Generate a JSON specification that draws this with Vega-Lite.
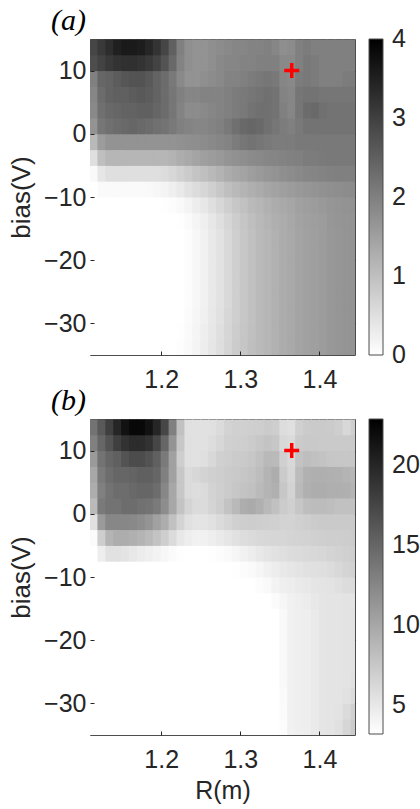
{
"$schema":"https://vega.github.io/schema/vega-lite/v6.json",
"background":"white",
"padding":{"left":8,"top":5,"right":0,"bottom":0},
"config":{
 "font":"Liberation Sans",
 "view":{"stroke":"#4d4d4d","strokeWidth":1},
 "axis":{"grid":false,"domain":false,"labelFont":"Liberation Sans","labelFontSize":25,"labelColor":"#262626","titleFont":"Liberation Sans","titleFontSize":25,"titleFontWeight":"normal","titleColor":"#262626","tickColor":"#262626","tickSize":-4,"tickWidth":1,"labelPadding":8},
 "axisX":{"labelPadding":16,"titlePadding":6},
 "axisY":{"titlePadding":9,"titleFontSize":26},
 "concat":{"spacing":-8}
},
"datasets":{
"a":[
{"r":1.11,"b":12.5,"v":2.9},{"r":1.12,"b":12.5,"v":3.1},{"r":1.13,"b":12.5,"v":3.3},{"r":1.14,"b":12.5,"v":3.5},{"r":1.15,"b":12.5,"v":3.6},{"r":1.16,"b":12.5,"v":3.6},{"r":1.17,"b":12.5,"v":3.55},{"r":1.18,"b":12.5,"v":3.4},{"r":1.19,"b":12.5,"v":3.2},{"r":1.2,"b":12.5,"v":2.9},{"r":1.21,"b":12.5,"v":2.5},{"r":1.22,"b":12.5,"v":2.0},{"r":1.23,"b":12.5,"v":1.75},{"r":1.24,"b":12.5,"v":1.7},{"r":1.25,"b":12.5,"v":1.7},{"r":1.26,"b":12.5,"v":1.75},{"r":1.27,"b":12.5,"v":1.8},{"r":1.28,"b":12.5,"v":1.85},{"r":1.29,"b":12.5,"v":1.9},{"r":1.3,"b":12.5,"v":1.9},{"r":1.31,"b":12.5,"v":1.95},{"r":1.32,"b":12.5,"v":1.95},{"r":1.33,"b":12.5,"v":2.0},{"r":1.34,"b":12.5,"v":1.9},{"r":1.35,"b":12.5,"v":1.75},{"r":1.36,"b":12.5,"v":1.8},{"r":1.37,"b":12.5,"v":2.0},{"r":1.38,"b":12.5,"v":2.05},{"r":1.39,"b":12.5,"v":2.0},{"r":1.4,"b":12.5,"v":2.0},{"r":1.41,"b":12.5,"v":2.0},{"r":1.42,"b":12.5,"v":2.0},{"r":1.43,"b":12.5,"v":2.0},{"r":1.44,"b":12.5,"v":2.0},
{"r":1.11,"b":10,"v":2.8},{"r":1.12,"b":10,"v":2.95},{"r":1.13,"b":10,"v":3.1},{"r":1.14,"b":10,"v":3.2},{"r":1.15,"b":10,"v":3.25},{"r":1.16,"b":10,"v":3.25},{"r":1.17,"b":10,"v":3.2},{"r":1.18,"b":10,"v":3.1},{"r":1.19,"b":10,"v":2.95},{"r":1.2,"b":10,"v":2.7},{"r":1.21,"b":10,"v":2.35},{"r":1.22,"b":10,"v":1.95},{"r":1.23,"b":10,"v":1.75},{"r":1.24,"b":10,"v":1.7},{"r":1.25,"b":10,"v":1.7},{"r":1.26,"b":10,"v":1.75},{"r":1.27,"b":10,"v":1.85},{"r":1.28,"b":10,"v":1.9},{"r":1.29,"b":10,"v":1.9},{"r":1.3,"b":10,"v":1.95},{"r":1.31,"b":10,"v":1.95},{"r":1.32,"b":10,"v":2.0},{"r":1.33,"b":10,"v":2.0},{"r":1.34,"b":10,"v":2.0},{"r":1.35,"b":10,"v":1.85},{"r":1.36,"b":10,"v":1.85},{"r":1.37,"b":10,"v":2.0},{"r":1.38,"b":10,"v":2.1},{"r":1.39,"b":10,"v":2.05},{"r":1.4,"b":10,"v":2.0},{"r":1.41,"b":10,"v":2.0},{"r":1.42,"b":10,"v":2.0},{"r":1.43,"b":10,"v":2.0},{"r":1.44,"b":10,"v":2.0},
{"r":1.11,"b":7.5,"v":2.0},{"r":1.12,"b":7.5,"v":2.4},{"r":1.13,"b":7.5,"v":2.45},{"r":1.14,"b":7.5,"v":2.55},{"r":1.15,"b":7.5,"v":2.65},{"r":1.16,"b":7.5,"v":2.7},{"r":1.17,"b":7.5,"v":2.7},{"r":1.18,"b":7.5,"v":2.6},{"r":1.19,"b":7.5,"v":2.45},{"r":1.2,"b":7.5,"v":2.3},{"r":1.21,"b":7.5,"v":2.1},{"r":1.22,"b":7.5,"v":1.85},{"r":1.23,"b":7.5,"v":1.7},{"r":1.24,"b":7.5,"v":1.7},{"r":1.25,"b":7.5,"v":1.75},{"r":1.26,"b":7.5,"v":1.8},{"r":1.27,"b":7.5,"v":1.85},{"r":1.28,"b":7.5,"v":1.95},{"r":1.29,"b":7.5,"v":1.95},{"r":1.3,"b":7.5,"v":2.0},{"r":1.31,"b":7.5,"v":2.05},{"r":1.32,"b":7.5,"v":2.1},{"r":1.33,"b":7.5,"v":2.15},{"r":1.34,"b":7.5,"v":2.1},{"r":1.35,"b":7.5,"v":1.9},{"r":1.36,"b":7.5,"v":1.85},{"r":1.37,"b":7.5,"v":2.05},{"r":1.38,"b":7.5,"v":2.1},{"r":1.39,"b":7.5,"v":2.05},{"r":1.4,"b":7.5,"v":2.0},{"r":1.41,"b":7.5,"v":2.0},{"r":1.42,"b":7.5,"v":2.0},{"r":1.43,"b":7.5,"v":2.05},{"r":1.44,"b":7.5,"v":2.05},
{"r":1.11,"b":5,"v":1.9},{"r":1.12,"b":5,"v":2.3},{"r":1.13,"b":5,"v":2.45},{"r":1.14,"b":5,"v":2.5},{"r":1.15,"b":5,"v":2.5},{"r":1.16,"b":5,"v":2.55},{"r":1.17,"b":5,"v":2.6},{"r":1.18,"b":5,"v":2.55},{"r":1.19,"b":5,"v":2.45},{"r":1.2,"b":5,"v":2.3},{"r":1.21,"b":5,"v":2.15},{"r":1.22,"b":5,"v":2.0},{"r":1.23,"b":5,"v":1.9},{"r":1.24,"b":5,"v":1.9},{"r":1.25,"b":5,"v":1.95},{"r":1.26,"b":5,"v":1.95},{"r":1.27,"b":5,"v":1.95},{"r":1.28,"b":5,"v":2.0},{"r":1.29,"b":5,"v":2.05},{"r":1.3,"b":5,"v":2.1},{"r":1.31,"b":5,"v":2.15},{"r":1.32,"b":5,"v":2.2},{"r":1.33,"b":5,"v":2.25},{"r":1.34,"b":5,"v":2.2},{"r":1.35,"b":5,"v":1.95},{"r":1.36,"b":5,"v":1.9},{"r":1.37,"b":5,"v":2.15},{"r":1.38,"b":5,"v":2.2},{"r":1.39,"b":5,"v":2.2},{"r":1.4,"b":5,"v":2.15},{"r":1.41,"b":5,"v":2.15},{"r":1.42,"b":5,"v":2.15},{"r":1.43,"b":5,"v":2.15},{"r":1.44,"b":5,"v":2.15},
{"r":1.11,"b":2.5,"v":1.85},{"r":1.12,"b":2.5,"v":2.25},{"r":1.13,"b":2.5,"v":2.35},{"r":1.14,"b":2.5,"v":2.4},{"r":1.15,"b":2.5,"v":2.45},{"r":1.16,"b":2.5,"v":2.45},{"r":1.17,"b":2.5,"v":2.5},{"r":1.18,"b":2.5,"v":2.5},{"r":1.19,"b":2.5,"v":2.4},{"r":1.2,"b":2.5,"v":2.3},{"r":1.21,"b":2.5,"v":2.15},{"r":1.22,"b":2.5,"v":1.95},{"r":1.23,"b":2.5,"v":1.8},{"r":1.24,"b":2.5,"v":1.8},{"r":1.25,"b":2.5,"v":1.85},{"r":1.26,"b":2.5,"v":1.9},{"r":1.27,"b":2.5,"v":1.95},{"r":1.28,"b":2.5,"v":2.0},{"r":1.29,"b":2.5,"v":2.05},{"r":1.3,"b":2.5,"v":2.1},{"r":1.31,"b":2.5,"v":2.2},{"r":1.32,"b":2.5,"v":2.25},{"r":1.33,"b":2.5,"v":2.25},{"r":1.34,"b":2.5,"v":2.2},{"r":1.35,"b":2.5,"v":2.0},{"r":1.36,"b":2.5,"v":1.9},{"r":1.37,"b":2.5,"v":2.15},{"r":1.38,"b":2.5,"v":2.3},{"r":1.39,"b":2.5,"v":2.35},{"r":1.4,"b":2.5,"v":2.25},{"r":1.41,"b":2.5,"v":2.2},{"r":1.42,"b":2.5,"v":2.2},{"r":1.43,"b":2.5,"v":2.2},{"r":1.44,"b":2.5,"v":2.2},
{"r":1.11,"b":0,"v":1.7},{"r":1.12,"b":0,"v":2.15},{"r":1.13,"b":0,"v":2.25},{"r":1.14,"b":0,"v":2.3},{"r":1.15,"b":0,"v":2.35},{"r":1.16,"b":0,"v":2.4},{"r":1.17,"b":0,"v":2.35},{"r":1.18,"b":0,"v":2.3},{"r":1.19,"b":0,"v":2.25},{"r":1.2,"b":0,"v":2.2},{"r":1.21,"b":0,"v":2.1},{"r":1.22,"b":0,"v":2.0},{"r":1.23,"b":0,"v":1.95},{"r":1.24,"b":0,"v":1.9},{"r":1.25,"b":0,"v":1.9},{"r":1.26,"b":0,"v":1.95},{"r":1.27,"b":0,"v":2.0},{"r":1.28,"b":0,"v":2.1},{"r":1.29,"b":0,"v":2.25},{"r":1.3,"b":0,"v":2.35},{"r":1.31,"b":0,"v":2.4},{"r":1.32,"b":0,"v":2.35},{"r":1.33,"b":0,"v":2.25},{"r":1.34,"b":0,"v":2.15},{"r":1.35,"b":0,"v":2.05},{"r":1.36,"b":0,"v":2.0},{"r":1.37,"b":0,"v":2.1},{"r":1.38,"b":0,"v":2.2},{"r":1.39,"b":0,"v":2.2},{"r":1.4,"b":0,"v":2.2},{"r":1.41,"b":0,"v":2.2},{"r":1.42,"b":0,"v":2.2},{"r":1.43,"b":0,"v":2.2},{"r":1.44,"b":0,"v":2.2},
{"r":1.11,"b":-2.5,"v":1.1},{"r":1.12,"b":-2.5,"v":1.55},{"r":1.13,"b":-2.5,"v":1.7},{"r":1.14,"b":-2.5,"v":1.7},{"r":1.15,"b":-2.5,"v":1.7},{"r":1.16,"b":-2.5,"v":1.7},{"r":1.17,"b":-2.5,"v":1.7},{"r":1.18,"b":-2.5,"v":1.7},{"r":1.19,"b":-2.5,"v":1.7},{"r":1.2,"b":-2.5,"v":1.7},{"r":1.21,"b":-2.5,"v":1.7},{"r":1.22,"b":-2.5,"v":1.72},{"r":1.23,"b":-2.5,"v":1.75},{"r":1.24,"b":-2.5,"v":1.78},{"r":1.25,"b":-2.5,"v":1.8},{"r":1.26,"b":-2.5,"v":1.85},{"r":1.27,"b":-2.5,"v":1.9},{"r":1.28,"b":-2.5,"v":1.95},{"r":1.29,"b":-2.5,"v":2.05},{"r":1.3,"b":-2.5,"v":2.15},{"r":1.31,"b":-2.5,"v":2.2},{"r":1.32,"b":-2.5,"v":2.15},{"r":1.33,"b":-2.5,"v":2.1},{"r":1.34,"b":-2.5,"v":2.05},{"r":1.35,"b":-2.5,"v":2.05},{"r":1.36,"b":-2.5,"v":2.05},{"r":1.37,"b":-2.5,"v":2.1},{"r":1.38,"b":-2.5,"v":2.1},{"r":1.39,"b":-2.5,"v":2.1},{"r":1.4,"b":-2.5,"v":2.1},{"r":1.41,"b":-2.5,"v":2.1},{"r":1.42,"b":-2.5,"v":2.1},{"r":1.43,"b":-2.5,"v":2.1},{"r":1.44,"b":-2.5,"v":2.1},
{"r":1.11,"b":-5,"v":0.5},{"r":1.12,"b":-5,"v":1.0},{"r":1.13,"b":-5,"v":1.15},{"r":1.14,"b":-5,"v":1.15},{"r":1.15,"b":-5,"v":1.15},{"r":1.16,"b":-5,"v":1.15},{"r":1.17,"b":-5,"v":1.15},{"r":1.18,"b":-5,"v":1.15},{"r":1.19,"b":-5,"v":1.15},{"r":1.2,"b":-5,"v":1.15},{"r":1.21,"b":-5,"v":1.2},{"r":1.22,"b":-5,"v":1.28},{"r":1.23,"b":-5,"v":1.35},{"r":1.24,"b":-5,"v":1.42},{"r":1.25,"b":-5,"v":1.5},{"r":1.26,"b":-5,"v":1.55},{"r":1.27,"b":-5,"v":1.6},{"r":1.28,"b":-5,"v":1.68},{"r":1.29,"b":-5,"v":1.72},{"r":1.3,"b":-5,"v":1.78},{"r":1.31,"b":-5,"v":1.82},{"r":1.32,"b":-5,"v":1.85},{"r":1.33,"b":-5,"v":1.9},{"r":1.34,"b":-5,"v":1.92},{"r":1.35,"b":-5,"v":1.95},{"r":1.36,"b":-5,"v":1.98},{"r":1.37,"b":-5,"v":2.0},{"r":1.38,"b":-5,"v":2.05},{"r":1.39,"b":-5,"v":2.05},{"r":1.4,"b":-5,"v":2.08},{"r":1.41,"b":-5,"v":2.1},{"r":1.42,"b":-5,"v":2.1},{"r":1.43,"b":-5,"v":2.1},{"r":1.44,"b":-5,"v":2.1},
{"r":1.11,"b":-7.5,"v":0.1},{"r":1.12,"b":-7.5,"v":0.4},{"r":1.13,"b":-7.5,"v":0.5},{"r":1.14,"b":-7.5,"v":0.5},{"r":1.15,"b":-7.5,"v":0.5},{"r":1.16,"b":-7.5,"v":0.5},{"r":1.17,"b":-7.5,"v":0.5},{"r":1.18,"b":-7.5,"v":0.5},{"r":1.19,"b":-7.5,"v":0.5},{"r":1.2,"b":-7.5,"v":0.55},{"r":1.21,"b":-7.5,"v":0.62},{"r":1.22,"b":-7.5,"v":0.72},{"r":1.23,"b":-7.5,"v":0.82},{"r":1.24,"b":-7.5,"v":0.92},{"r":1.25,"b":-7.5,"v":1.0},{"r":1.26,"b":-7.5,"v":1.1},{"r":1.27,"b":-7.5,"v":1.2},{"r":1.28,"b":-7.5,"v":1.3},{"r":1.29,"b":-7.5,"v":1.38},{"r":1.3,"b":-7.5,"v":1.45},{"r":1.31,"b":-7.5,"v":1.52},{"r":1.32,"b":-7.5,"v":1.58},{"r":1.33,"b":-7.5,"v":1.65},{"r":1.34,"b":-7.5,"v":1.7},{"r":1.35,"b":-7.5,"v":1.75},{"r":1.36,"b":-7.5,"v":1.8},{"r":1.37,"b":-7.5,"v":1.85},{"r":1.38,"b":-7.5,"v":1.9},{"r":1.39,"b":-7.5,"v":1.92},{"r":1.4,"b":-7.5,"v":1.95},{"r":1.41,"b":-7.5,"v":1.98},{"r":1.42,"b":-7.5,"v":2.0},{"r":1.43,"b":-7.5,"v":2.0},{"r":1.44,"b":-7.5,"v":2.0},
{"r":1.11,"b":-10,"v":0},{"r":1.12,"b":-10,"v":0.08},{"r":1.13,"b":-10,"v":0.08},{"r":1.14,"b":-10,"v":0.08},{"r":1.15,"b":-10,"v":0.08},{"r":1.16,"b":-10,"v":0.08},{"r":1.17,"b":-10,"v":0.08},{"r":1.18,"b":-10,"v":0.1},{"r":1.19,"b":-10,"v":0.12},{"r":1.2,"b":-10,"v":0.18},{"r":1.21,"b":-10,"v":0.25},{"r":1.22,"b":-10,"v":0.35},{"r":1.23,"b":-10,"v":0.45},{"r":1.24,"b":-10,"v":0.55},{"r":1.25,"b":-10,"v":0.65},{"r":1.26,"b":-10,"v":0.75},{"r":1.27,"b":-10,"v":0.88},{"r":1.28,"b":-10,"v":1.0},{"r":1.29,"b":-10,"v":1.1},{"r":1.3,"b":-10,"v":1.18},{"r":1.31,"b":-10,"v":1.25},{"r":1.32,"b":-10,"v":1.32},{"r":1.33,"b":-10,"v":1.4},{"r":1.34,"b":-10,"v":1.45},{"r":1.35,"b":-10,"v":1.5},{"r":1.36,"b":-10,"v":1.55},{"r":1.37,"b":-10,"v":1.6},{"r":1.38,"b":-10,"v":1.65},{"r":1.39,"b":-10,"v":1.68},{"r":1.4,"b":-10,"v":1.72},{"r":1.41,"b":-10,"v":1.75},{"r":1.42,"b":-10,"v":1.78},{"r":1.43,"b":-10,"v":1.8},{"r":1.44,"b":-10,"v":1.82},
{"r":1.11,"b":-12.5,"v":0},{"r":1.12,"b":-12.5,"v":0},{"r":1.13,"b":-12.5,"v":0},{"r":1.14,"b":-12.5,"v":0},{"r":1.15,"b":-12.5,"v":0},{"r":1.16,"b":-12.5,"v":0},{"r":1.17,"b":-12.5,"v":0},{"r":1.18,"b":-12.5,"v":0},{"r":1.19,"b":-12.5,"v":0},{"r":1.2,"b":-12.5,"v":0.02},{"r":1.21,"b":-12.5,"v":0.05},{"r":1.22,"b":-12.5,"v":0.1},{"r":1.23,"b":-12.5,"v":0.18},{"r":1.24,"b":-12.5,"v":0.28},{"r":1.25,"b":-12.5,"v":0.38},{"r":1.26,"b":-12.5,"v":0.5},{"r":1.27,"b":-12.5,"v":0.62},{"r":1.28,"b":-12.5,"v":0.75},{"r":1.29,"b":-12.5,"v":0.88},{"r":1.3,"b":-12.5,"v":0.98},{"r":1.31,"b":-12.5,"v":1.08},{"r":1.32,"b":-12.5,"v":1.15},{"r":1.33,"b":-12.5,"v":1.22},{"r":1.34,"b":-12.5,"v":1.3},{"r":1.35,"b":-12.5,"v":1.35},{"r":1.36,"b":-12.5,"v":1.4},{"r":1.37,"b":-12.5,"v":1.48},{"r":1.38,"b":-12.5,"v":1.52},{"r":1.39,"b":-12.5,"v":1.55},{"r":1.4,"b":-12.5,"v":1.6},{"r":1.41,"b":-12.5,"v":1.65},{"r":1.42,"b":-12.5,"v":1.68},{"r":1.43,"b":-12.5,"v":1.7},{"r":1.44,"b":-12.5,"v":1.72},
{"r":1.11,"b":-15,"v":0},{"r":1.12,"b":-15,"v":0},{"r":1.13,"b":-15,"v":0},{"r":1.14,"b":-15,"v":0},{"r":1.15,"b":-15,"v":0},{"r":1.16,"b":-15,"v":0},{"r":1.17,"b":-15,"v":0},{"r":1.18,"b":-15,"v":0},{"r":1.19,"b":-15,"v":0},{"r":1.2,"b":-15,"v":0},{"r":1.21,"b":-15,"v":0},{"r":1.22,"b":-15,"v":0.02},{"r":1.23,"b":-15,"v":0.08},{"r":1.24,"b":-15,"v":0.15},{"r":1.25,"b":-15,"v":0.25},{"r":1.26,"b":-15,"v":0.38},{"r":1.27,"b":-15,"v":0.5},{"r":1.28,"b":-15,"v":0.65},{"r":1.29,"b":-15,"v":0.78},{"r":1.3,"b":-15,"v":0.9},{"r":1.31,"b":-15,"v":1.0},{"r":1.32,"b":-15,"v":1.1},{"r":1.33,"b":-15,"v":1.17},{"r":1.34,"b":-15,"v":1.25},{"r":1.35,"b":-15,"v":1.3},{"r":1.36,"b":-15,"v":1.36},{"r":1.37,"b":-15,"v":1.44},{"r":1.38,"b":-15,"v":1.49},{"r":1.39,"b":-15,"v":1.52},{"r":1.4,"b":-15,"v":1.56},{"r":1.41,"b":-15,"v":1.63},{"r":1.42,"b":-15,"v":1.66},{"r":1.43,"b":-15,"v":1.68},{"r":1.44,"b":-15,"v":1.7},
{"r":1.11,"b":-17.5,"v":0},{"r":1.12,"b":-17.5,"v":0},{"r":1.13,"b":-17.5,"v":0},{"r":1.14,"b":-17.5,"v":0},{"r":1.15,"b":-17.5,"v":0},{"r":1.16,"b":-17.5,"v":0},{"r":1.17,"b":-17.5,"v":0},{"r":1.18,"b":-17.5,"v":0},{"r":1.19,"b":-17.5,"v":0},{"r":1.2,"b":-17.5,"v":0},{"r":1.21,"b":-17.5,"v":0},{"r":1.22,"b":-17.5,"v":0},{"r":1.23,"b":-17.5,"v":0.05},{"r":1.24,"b":-17.5,"v":0.12},{"r":1.25,"b":-17.5,"v":0.22},{"r":1.26,"b":-17.5,"v":0.35},{"r":1.27,"b":-17.5,"v":0.45},{"r":1.28,"b":-17.5,"v":0.6},{"r":1.29,"b":-17.5,"v":0.75},{"r":1.3,"b":-17.5,"v":0.88},{"r":1.31,"b":-17.5,"v":0.98},{"r":1.32,"b":-17.5,"v":1.08},{"r":1.33,"b":-17.5,"v":1.15},{"r":1.34,"b":-17.5,"v":1.22},{"r":1.35,"b":-17.5,"v":1.3},{"r":1.36,"b":-17.5,"v":1.35},{"r":1.37,"b":-17.5,"v":1.42},{"r":1.38,"b":-17.5,"v":1.48},{"r":1.39,"b":-17.5,"v":1.5},{"r":1.4,"b":-17.5,"v":1.55},{"r":1.41,"b":-17.5,"v":1.62},{"r":1.42,"b":-17.5,"v":1.65},{"r":1.43,"b":-17.5,"v":1.68},{"r":1.44,"b":-17.5,"v":1.7},
{"r":1.11,"b":-20,"v":0},{"r":1.12,"b":-20,"v":0},{"r":1.13,"b":-20,"v":0},{"r":1.14,"b":-20,"v":0},{"r":1.15,"b":-20,"v":0},{"r":1.16,"b":-20,"v":0},{"r":1.17,"b":-20,"v":0},{"r":1.18,"b":-20,"v":0},{"r":1.19,"b":-20,"v":0},{"r":1.2,"b":-20,"v":0},{"r":1.21,"b":-20,"v":0},{"r":1.22,"b":-20,"v":0},{"r":1.23,"b":-20,"v":0.05},{"r":1.24,"b":-20,"v":0.12},{"r":1.25,"b":-20,"v":0.22},{"r":1.26,"b":-20,"v":0.35},{"r":1.27,"b":-20,"v":0.45},{"r":1.28,"b":-20,"v":0.6},{"r":1.29,"b":-20,"v":0.75},{"r":1.3,"b":-20,"v":0.88},{"r":1.31,"b":-20,"v":0.98},{"r":1.32,"b":-20,"v":1.08},{"r":1.33,"b":-20,"v":1.15},{"r":1.34,"b":-20,"v":1.22},{"r":1.35,"b":-20,"v":1.3},{"r":1.36,"b":-20,"v":1.35},{"r":1.37,"b":-20,"v":1.42},{"r":1.38,"b":-20,"v":1.48},{"r":1.39,"b":-20,"v":1.5},{"r":1.4,"b":-20,"v":1.55},{"r":1.41,"b":-20,"v":1.62},{"r":1.42,"b":-20,"v":1.65},{"r":1.43,"b":-20,"v":1.68},{"r":1.44,"b":-20,"v":1.7},
{"r":1.11,"b":-22.5,"v":0},{"r":1.12,"b":-22.5,"v":0},{"r":1.13,"b":-22.5,"v":0},{"r":1.14,"b":-22.5,"v":0},{"r":1.15,"b":-22.5,"v":0},{"r":1.16,"b":-22.5,"v":0},{"r":1.17,"b":-22.5,"v":0},{"r":1.18,"b":-22.5,"v":0},{"r":1.19,"b":-22.5,"v":0},{"r":1.2,"b":-22.5,"v":0},{"r":1.21,"b":-22.5,"v":0},{"r":1.22,"b":-22.5,"v":0},{"r":1.23,"b":-22.5,"v":0.05},{"r":1.24,"b":-22.5,"v":0.12},{"r":1.25,"b":-22.5,"v":0.22},{"r":1.26,"b":-22.5,"v":0.35},{"r":1.27,"b":-22.5,"v":0.45},{"r":1.28,"b":-22.5,"v":0.6},{"r":1.29,"b":-22.5,"v":0.75},{"r":1.3,"b":-22.5,"v":0.88},{"r":1.31,"b":-22.5,"v":0.98},{"r":1.32,"b":-22.5,"v":1.08},{"r":1.33,"b":-22.5,"v":1.15},{"r":1.34,"b":-22.5,"v":1.22},{"r":1.35,"b":-22.5,"v":1.3},{"r":1.36,"b":-22.5,"v":1.35},{"r":1.37,"b":-22.5,"v":1.42},{"r":1.38,"b":-22.5,"v":1.48},{"r":1.39,"b":-22.5,"v":1.5},{"r":1.4,"b":-22.5,"v":1.55},{"r":1.41,"b":-22.5,"v":1.62},{"r":1.42,"b":-22.5,"v":1.65},{"r":1.43,"b":-22.5,"v":1.68},{"r":1.44,"b":-22.5,"v":1.7},
{"r":1.11,"b":-25,"v":0},{"r":1.12,"b":-25,"v":0},{"r":1.13,"b":-25,"v":0},{"r":1.14,"b":-25,"v":0},{"r":1.15,"b":-25,"v":0},{"r":1.16,"b":-25,"v":0},{"r":1.17,"b":-25,"v":0},{"r":1.18,"b":-25,"v":0},{"r":1.19,"b":-25,"v":0},{"r":1.2,"b":-25,"v":0},{"r":1.21,"b":-25,"v":0},{"r":1.22,"b":-25,"v":0},{"r":1.23,"b":-25,"v":0.05},{"r":1.24,"b":-25,"v":0.12},{"r":1.25,"b":-25,"v":0.22},{"r":1.26,"b":-25,"v":0.35},{"r":1.27,"b":-25,"v":0.45},{"r":1.28,"b":-25,"v":0.6},{"r":1.29,"b":-25,"v":0.75},{"r":1.3,"b":-25,"v":0.88},{"r":1.31,"b":-25,"v":0.98},{"r":1.32,"b":-25,"v":1.08},{"r":1.33,"b":-25,"v":1.15},{"r":1.34,"b":-25,"v":1.22},{"r":1.35,"b":-25,"v":1.3},{"r":1.36,"b":-25,"v":1.35},{"r":1.37,"b":-25,"v":1.42},{"r":1.38,"b":-25,"v":1.48},{"r":1.39,"b":-25,"v":1.5},{"r":1.4,"b":-25,"v":1.55},{"r":1.41,"b":-25,"v":1.62},{"r":1.42,"b":-25,"v":1.65},{"r":1.43,"b":-25,"v":1.68},{"r":1.44,"b":-25,"v":1.7},
{"r":1.11,"b":-27.5,"v":0},{"r":1.12,"b":-27.5,"v":0},{"r":1.13,"b":-27.5,"v":0},{"r":1.14,"b":-27.5,"v":0},{"r":1.15,"b":-27.5,"v":0},{"r":1.16,"b":-27.5,"v":0},{"r":1.17,"b":-27.5,"v":0},{"r":1.18,"b":-27.5,"v":0},{"r":1.19,"b":-27.5,"v":0},{"r":1.2,"b":-27.5,"v":0},{"r":1.21,"b":-27.5,"v":0},{"r":1.22,"b":-27.5,"v":0},{"r":1.23,"b":-27.5,"v":0.05},{"r":1.24,"b":-27.5,"v":0.12},{"r":1.25,"b":-27.5,"v":0.22},{"r":1.26,"b":-27.5,"v":0.35},{"r":1.27,"b":-27.5,"v":0.45},{"r":1.28,"b":-27.5,"v":0.6},{"r":1.29,"b":-27.5,"v":0.75},{"r":1.3,"b":-27.5,"v":0.88},{"r":1.31,"b":-27.5,"v":0.98},{"r":1.32,"b":-27.5,"v":1.08},{"r":1.33,"b":-27.5,"v":1.15},{"r":1.34,"b":-27.5,"v":1.22},{"r":1.35,"b":-27.5,"v":1.3},{"r":1.36,"b":-27.5,"v":1.35},{"r":1.37,"b":-27.5,"v":1.42},{"r":1.38,"b":-27.5,"v":1.48},{"r":1.39,"b":-27.5,"v":1.5},{"r":1.4,"b":-27.5,"v":1.55},{"r":1.41,"b":-27.5,"v":1.62},{"r":1.42,"b":-27.5,"v":1.65},{"r":1.43,"b":-27.5,"v":1.68},{"r":1.44,"b":-27.5,"v":1.7},
{"r":1.11,"b":-30,"v":0},{"r":1.12,"b":-30,"v":0},{"r":1.13,"b":-30,"v":0},{"r":1.14,"b":-30,"v":0},{"r":1.15,"b":-30,"v":0},{"r":1.16,"b":-30,"v":0},{"r":1.17,"b":-30,"v":0},{"r":1.18,"b":-30,"v":0},{"r":1.19,"b":-30,"v":0},{"r":1.2,"b":-30,"v":0},{"r":1.21,"b":-30,"v":0},{"r":1.22,"b":-30,"v":0},{"r":1.23,"b":-30,"v":0.06},{"r":1.24,"b":-30,"v":0.14},{"r":1.25,"b":-30,"v":0.24},{"r":1.26,"b":-30,"v":0.36},{"r":1.27,"b":-30,"v":0.47},{"r":1.28,"b":-30,"v":0.62},{"r":1.29,"b":-30,"v":0.76},{"r":1.3,"b":-30,"v":0.88},{"r":1.31,"b":-30,"v":0.98},{"r":1.32,"b":-30,"v":1.08},{"r":1.33,"b":-30,"v":1.15},{"r":1.34,"b":-30,"v":1.22},{"r":1.35,"b":-30,"v":1.3},{"r":1.36,"b":-30,"v":1.35},{"r":1.37,"b":-30,"v":1.42},{"r":1.38,"b":-30,"v":1.48},{"r":1.39,"b":-30,"v":1.5},{"r":1.4,"b":-30,"v":1.55},{"r":1.41,"b":-30,"v":1.62},{"r":1.42,"b":-30,"v":1.65},{"r":1.43,"b":-30,"v":1.68},{"r":1.44,"b":-30,"v":1.7},
{"r":1.11,"b":-32.5,"v":0},{"r":1.12,"b":-32.5,"v":0},{"r":1.13,"b":-32.5,"v":0},{"r":1.14,"b":-32.5,"v":0},{"r":1.15,"b":-32.5,"v":0},{"r":1.16,"b":-32.5,"v":0},{"r":1.17,"b":-32.5,"v":0},{"r":1.18,"b":-32.5,"v":0},{"r":1.19,"b":-32.5,"v":0},{"r":1.2,"b":-32.5,"v":0},{"r":1.21,"b":-32.5,"v":0},{"r":1.22,"b":-32.5,"v":0.02},{"r":1.23,"b":-32.5,"v":0.08},{"r":1.24,"b":-32.5,"v":0.16},{"r":1.25,"b":-32.5,"v":0.26},{"r":1.26,"b":-32.5,"v":0.38},{"r":1.27,"b":-32.5,"v":0.5},{"r":1.28,"b":-32.5,"v":0.64},{"r":1.29,"b":-32.5,"v":0.78},{"r":1.3,"b":-32.5,"v":0.9},{"r":1.31,"b":-32.5,"v":0.99},{"r":1.32,"b":-32.5,"v":1.08},{"r":1.33,"b":-32.5,"v":1.15},{"r":1.34,"b":-32.5,"v":1.22},{"r":1.35,"b":-32.5,"v":1.3},{"r":1.36,"b":-32.5,"v":1.35},{"r":1.37,"b":-32.5,"v":1.42},{"r":1.38,"b":-32.5,"v":1.48},{"r":1.39,"b":-32.5,"v":1.5},{"r":1.4,"b":-32.5,"v":1.55},{"r":1.41,"b":-32.5,"v":1.62},{"r":1.42,"b":-32.5,"v":1.65},{"r":1.43,"b":-32.5,"v":1.68},{"r":1.44,"b":-32.5,"v":1.7},
{"r":1.11,"b":-35,"v":0},{"r":1.12,"b":-35,"v":0},{"r":1.13,"b":-35,"v":0},{"r":1.14,"b":-35,"v":0},{"r":1.15,"b":-35,"v":0},{"r":1.16,"b":-35,"v":0},{"r":1.17,"b":-35,"v":0},{"r":1.18,"b":-35,"v":0},{"r":1.19,"b":-35,"v":0},{"r":1.2,"b":-35,"v":0},{"r":1.21,"b":-35,"v":0},{"r":1.22,"b":-35,"v":0.03},{"r":1.23,"b":-35,"v":0.1},{"r":1.24,"b":-35,"v":0.18},{"r":1.25,"b":-35,"v":0.28},{"r":1.26,"b":-35,"v":0.4},{"r":1.27,"b":-35,"v":0.52},{"r":1.28,"b":-35,"v":0.66},{"r":1.29,"b":-35,"v":0.8},{"r":1.3,"b":-35,"v":0.9},{"r":1.31,"b":-35,"v":1.0},{"r":1.32,"b":-35,"v":1.08},{"r":1.33,"b":-35,"v":1.15},{"r":1.34,"b":-35,"v":1.22},{"r":1.35,"b":-35,"v":1.3},{"r":1.36,"b":-35,"v":1.35},{"r":1.37,"b":-35,"v":1.42},{"r":1.38,"b":-35,"v":1.48},{"r":1.39,"b":-35,"v":1.5},{"r":1.4,"b":-35,"v":1.55},{"r":1.41,"b":-35,"v":1.62},{"r":1.42,"b":-35,"v":1.65},{"r":1.43,"b":-35,"v":1.68},{"r":1.44,"b":-35,"v":1.7}
],
"b":[
{"r":1.11,"b":12.5,"v":14},{"r":1.12,"b":12.5,"v":16},{"r":1.13,"b":12.5,"v":18},{"r":1.14,"b":12.5,"v":20},{"r":1.15,"b":12.5,"v":21.5},{"r":1.16,"b":12.5,"v":22.3},{"r":1.17,"b":12.5,"v":22.3},{"r":1.18,"b":12.5,"v":21.5},{"r":1.19,"b":12.5,"v":20},{"r":1.2,"b":12.5,"v":17.5},{"r":1.21,"b":12.5,"v":13},{"r":1.22,"b":12.5,"v":8},{"r":1.23,"b":12.5,"v":5.6},{"r":1.24,"b":12.5,"v":5.5},{"r":1.25,"b":12.5,"v":5.5},{"r":1.26,"b":12.5,"v":5.6},{"r":1.27,"b":12.5,"v":6.0},{"r":1.28,"b":12.5,"v":6.6},{"r":1.29,"b":12.5,"v":6.8},{"r":1.3,"b":12.5,"v":6.8},{"r":1.31,"b":12.5,"v":6.9},{"r":1.32,"b":12.5,"v":7.0},{"r":1.33,"b":12.5,"v":7.2},{"r":1.34,"b":12.5,"v":7.0},{"r":1.35,"b":12.5,"v":5.8},{"r":1.36,"b":12.5,"v":5.6},{"r":1.37,"b":12.5,"v":6.8},{"r":1.38,"b":12.5,"v":7.2},{"r":1.39,"b":12.5,"v":7.3},{"r":1.4,"b":12.5,"v":7.3},{"r":1.41,"b":12.5,"v":7.2},{"r":1.42,"b":12.5,"v":7.0},{"r":1.43,"b":12.5,"v":6.2},{"r":1.44,"b":12.5,"v":7.0},
{"r":1.11,"b":10,"v":13},{"r":1.12,"b":10,"v":15},{"r":1.13,"b":10,"v":16.5},{"r":1.14,"b":10,"v":18},{"r":1.15,"b":10,"v":19},{"r":1.16,"b":10,"v":19.5},{"r":1.17,"b":10,"v":19.5},{"r":1.18,"b":10,"v":19},{"r":1.19,"b":10,"v":17.5},{"r":1.2,"b":10,"v":15},{"r":1.21,"b":10,"v":11.5},{"r":1.22,"b":10,"v":7.5},{"r":1.23,"b":10,"v":5.6},{"r":1.24,"b":10,"v":5.5},{"r":1.25,"b":10,"v":5.5},{"r":1.26,"b":10,"v":5.8},{"r":1.27,"b":10,"v":6.3},{"r":1.28,"b":10,"v":6.8},{"r":1.29,"b":10,"v":6.9},{"r":1.3,"b":10,"v":7.0},{"r":1.31,"b":10,"v":7.2},{"r":1.32,"b":10,"v":7.5},{"r":1.33,"b":10,"v":7.8},{"r":1.34,"b":10,"v":7.5},{"r":1.35,"b":10,"v":6.2},{"r":1.36,"b":10,"v":6.0},{"r":1.37,"b":10,"v":7.2},{"r":1.38,"b":10,"v":7.4},{"r":1.39,"b":10,"v":7.4},{"r":1.4,"b":10,"v":7.3},{"r":1.41,"b":10,"v":7.3},{"r":1.42,"b":10,"v":7.3},{"r":1.43,"b":10,"v":7.3},{"r":1.44,"b":10,"v":7.4},
{"r":1.11,"b":7.5,"v":11},{"r":1.12,"b":7.5,"v":14},{"r":1.13,"b":7.5,"v":15},{"r":1.14,"b":7.5,"v":15.5},{"r":1.15,"b":7.5,"v":16.5},{"r":1.16,"b":7.5,"v":17},{"r":1.17,"b":7.5,"v":17},{"r":1.18,"b":7.5,"v":16.5},{"r":1.19,"b":7.5,"v":15.5},{"r":1.2,"b":7.5,"v":13.5},{"r":1.21,"b":7.5,"v":10.5},{"r":1.22,"b":7.5,"v":7.0},{"r":1.23,"b":7.5,"v":5.6},{"r":1.24,"b":7.5,"v":5.5},{"r":1.25,"b":7.5,"v":5.7},{"r":1.26,"b":7.5,"v":6.2},{"r":1.27,"b":7.5,"v":6.8},{"r":1.28,"b":7.5,"v":7.0},{"r":1.29,"b":7.5,"v":7.2},{"r":1.3,"b":7.5,"v":7.3},{"r":1.31,"b":7.5,"v":7.5},{"r":1.32,"b":7.5,"v":8.0},{"r":1.33,"b":7.5,"v":8.6},{"r":1.34,"b":7.5,"v":8.5},{"r":1.35,"b":7.5,"v":6.8},{"r":1.36,"b":7.5,"v":6.2},{"r":1.37,"b":7.5,"v":7.8},{"r":1.38,"b":7.5,"v":8.2},{"r":1.39,"b":7.5,"v":8.0},{"r":1.4,"b":7.5,"v":7.8},{"r":1.41,"b":7.5,"v":7.6},{"r":1.42,"b":7.5,"v":7.5},{"r":1.43,"b":7.5,"v":7.5},{"r":1.44,"b":7.5,"v":7.5},
{"r":1.11,"b":5,"v":10},{"r":1.12,"b":5,"v":13.5},{"r":1.13,"b":5,"v":14.5},{"r":1.14,"b":5,"v":15},{"r":1.15,"b":5,"v":15},{"r":1.16,"b":5,"v":15.2},{"r":1.17,"b":5,"v":15.5},{"r":1.18,"b":5,"v":15.5},{"r":1.19,"b":5,"v":15},{"r":1.2,"b":5,"v":13},{"r":1.21,"b":5,"v":10.5},{"r":1.22,"b":5,"v":7.5},{"r":1.23,"b":5,"v":6.0},{"r":1.24,"b":5,"v":6.3},{"r":1.25,"b":5,"v":6.6},{"r":1.26,"b":5,"v":6.8},{"r":1.27,"b":5,"v":7.0},{"r":1.28,"b":5,"v":7.2},{"r":1.29,"b":5,"v":7.4},{"r":1.3,"b":5,"v":7.6},{"r":1.31,"b":5,"v":7.8},{"r":1.32,"b":5,"v":8.3},{"r":1.33,"b":5,"v":9.0},{"r":1.34,"b":5,"v":9.5},{"r":1.35,"b":5,"v":7.2},{"r":1.36,"b":5,"v":6.4},{"r":1.37,"b":5,"v":8.4},{"r":1.38,"b":5,"v":9.2},{"r":1.39,"b":5,"v":9.4},{"r":1.4,"b":5,"v":9.4},{"r":1.41,"b":5,"v":9.3},{"r":1.42,"b":5,"v":9.2},{"r":1.43,"b":5,"v":9.0},{"r":1.44,"b":5,"v":8.8},
{"r":1.11,"b":2.5,"v":9.5},{"r":1.12,"b":2.5,"v":13},{"r":1.13,"b":2.5,"v":14},{"r":1.14,"b":2.5,"v":14.5},{"r":1.15,"b":2.5,"v":14.5},{"r":1.16,"b":2.5,"v":14.8},{"r":1.17,"b":2.5,"v":15},{"r":1.18,"b":2.5,"v":15},{"r":1.19,"b":2.5,"v":14.5},{"r":1.2,"b":2.5,"v":12.5},{"r":1.21,"b":2.5,"v":10},{"r":1.22,"b":2.5,"v":7.5},{"r":1.23,"b":2.5,"v":6.0},{"r":1.24,"b":2.5,"v":5.8},{"r":1.25,"b":2.5,"v":6.0},{"r":1.26,"b":2.5,"v":6.6},{"r":1.27,"b":2.5,"v":6.9},{"r":1.28,"b":2.5,"v":7.2},{"r":1.29,"b":2.5,"v":7.5},{"r":1.3,"b":2.5,"v":7.8},{"r":1.31,"b":2.5,"v":8.0},{"r":1.32,"b":2.5,"v":8.5},{"r":1.33,"b":2.5,"v":9.0},{"r":1.34,"b":2.5,"v":9.3},{"r":1.35,"b":2.5,"v":7.5},{"r":1.36,"b":2.5,"v":6.6},{"r":1.37,"b":2.5,"v":8.5},{"r":1.38,"b":2.5,"v":9.3},{"r":1.39,"b":2.5,"v":9.5},{"r":1.4,"b":2.5,"v":9.5},{"r":1.41,"b":2.5,"v":9.4},{"r":1.42,"b":2.5,"v":9.4},{"r":1.43,"b":2.5,"v":9.3},{"r":1.44,"b":2.5,"v":9.0},
{"r":1.11,"b":0,"v":8.5},{"r":1.12,"b":0,"v":13.5},{"r":1.13,"b":0,"v":14},{"r":1.14,"b":0,"v":14},{"r":1.15,"b":0,"v":14.5},{"r":1.16,"b":0,"v":14.5},{"r":1.17,"b":0,"v":14.2},{"r":1.18,"b":0,"v":14},{"r":1.19,"b":0,"v":13.5},{"r":1.2,"b":0,"v":12},{"r":1.21,"b":0,"v":10},{"r":1.22,"b":0,"v":7.8},{"r":1.23,"b":0,"v":6.5},{"r":1.24,"b":0,"v":6.0},{"r":1.25,"b":0,"v":6.0},{"r":1.26,"b":0,"v":6.5},{"r":1.27,"b":0,"v":7.0},{"r":1.28,"b":0,"v":7.8},{"r":1.29,"b":0,"v":8.6},{"r":1.3,"b":0,"v":9.5},{"r":1.31,"b":0,"v":9.8},{"r":1.32,"b":0,"v":9.3},{"r":1.33,"b":0,"v":8.6},{"r":1.34,"b":0,"v":8.0},{"r":1.35,"b":0,"v":7.2},{"r":1.36,"b":0,"v":6.8},{"r":1.37,"b":0,"v":7.6},{"r":1.38,"b":0,"v":8.2},{"r":1.39,"b":0,"v":8.4},{"r":1.4,"b":0,"v":8.4},{"r":1.41,"b":0,"v":8.2},{"r":1.42,"b":0,"v":8.0},{"r":1.43,"b":0,"v":8.0},{"r":1.44,"b":0,"v":8.0},
{"r":1.11,"b":-2.5,"v":5.5},{"r":1.12,"b":-2.5,"v":11},{"r":1.13,"b":-2.5,"v":12.5},{"r":1.14,"b":-2.5,"v":12.5},{"r":1.15,"b":-2.5,"v":12.5},{"r":1.16,"b":-2.5,"v":12.3},{"r":1.17,"b":-2.5,"v":12},{"r":1.18,"b":-2.5,"v":11.5},{"r":1.19,"b":-2.5,"v":10.5},{"r":1.2,"b":-2.5,"v":9.5},{"r":1.21,"b":-2.5,"v":8.0},{"r":1.22,"b":-2.5,"v":6.5},{"r":1.23,"b":-2.5,"v":5.6},{"r":1.24,"b":-2.5,"v":5.3},{"r":1.25,"b":-2.5,"v":5.3},{"r":1.26,"b":-2.5,"v":5.5},{"r":1.27,"b":-2.5,"v":6.0},{"r":1.28,"b":-2.5,"v":6.4},{"r":1.29,"b":-2.5,"v":6.8},{"r":1.3,"b":-2.5,"v":7.0},{"r":1.31,"b":-2.5,"v":7.1},{"r":1.32,"b":-2.5,"v":7.0},{"r":1.33,"b":-2.5,"v":6.9},{"r":1.34,"b":-2.5,"v":6.8},{"r":1.35,"b":-2.5,"v":6.6},{"r":1.36,"b":-2.5,"v":6.6},{"r":1.37,"b":-2.5,"v":6.8},{"r":1.38,"b":-2.5,"v":7.0},{"r":1.39,"b":-2.5,"v":7.2},{"r":1.4,"b":-2.5,"v":7.3},{"r":1.41,"b":-2.5,"v":7.3},{"r":1.42,"b":-2.5,"v":7.3},{"r":1.43,"b":-2.5,"v":7.3},{"r":1.44,"b":-2.5,"v":7.3},
{"r":1.11,"b":-5,"v":3.5},{"r":1.12,"b":-5,"v":7},{"r":1.13,"b":-5,"v":9},{"r":1.14,"b":-5,"v":9.5},{"r":1.15,"b":-5,"v":9.5},{"r":1.16,"b":-5,"v":9.3},{"r":1.17,"b":-5,"v":9.0},{"r":1.18,"b":-5,"v":8.5},{"r":1.19,"b":-5,"v":7.8},{"r":1.2,"b":-5,"v":7.0},{"r":1.21,"b":-5,"v":6.0},{"r":1.22,"b":-5,"v":5.0},{"r":1.23,"b":-5,"v":4.5},{"r":1.24,"b":-5,"v":4.3},{"r":1.25,"b":-5,"v":4.3},{"r":1.26,"b":-5,"v":4.5},{"r":1.27,"b":-5,"v":4.8},{"r":1.28,"b":-5,"v":5.1},{"r":1.29,"b":-5,"v":5.5},{"r":1.3,"b":-5,"v":5.8},{"r":1.31,"b":-5,"v":6.0},{"r":1.32,"b":-5,"v":6.2},{"r":1.33,"b":-5,"v":6.3},{"r":1.34,"b":-5,"v":6.4},{"r":1.35,"b":-5,"v":6.4},{"r":1.36,"b":-5,"v":6.5},{"r":1.37,"b":-5,"v":6.6},{"r":1.38,"b":-5,"v":6.7},{"r":1.39,"b":-5,"v":6.8},{"r":1.4,"b":-5,"v":6.9},{"r":1.41,"b":-5,"v":7.0},{"r":1.42,"b":-5,"v":7.0},{"r":1.43,"b":-5,"v":7.1},{"r":1.44,"b":-5,"v":7.2},
{"r":1.11,"b":-7.5,"v":3.2},{"r":1.12,"b":-7.5,"v":4.5},{"r":1.13,"b":-7.5,"v":5.5},{"r":1.14,"b":-7.5,"v":5.5},{"r":1.15,"b":-7.5,"v":5.3},{"r":1.16,"b":-7.5,"v":5.0},{"r":1.17,"b":-7.5,"v":4.7},{"r":1.18,"b":-7.5,"v":4.4},{"r":1.19,"b":-7.5,"v":4.1},{"r":1.2,"b":-7.5,"v":3.8},{"r":1.21,"b":-7.5,"v":3.5},{"r":1.22,"b":-7.5,"v":3.3},{"r":1.23,"b":-7.5,"v":3.2},{"r":1.24,"b":-7.5,"v":3.2},{"r":1.25,"b":-7.5,"v":3.2},{"r":1.26,"b":-7.5,"v":3.3},{"r":1.27,"b":-7.5,"v":3.4},{"r":1.28,"b":-7.5,"v":3.6},{"r":1.29,"b":-7.5,"v":3.9},{"r":1.3,"b":-7.5,"v":4.3},{"r":1.31,"b":-7.5,"v":4.6},{"r":1.32,"b":-7.5,"v":5.0},{"r":1.33,"b":-7.5,"v":5.3},{"r":1.34,"b":-7.5,"v":5.5},{"r":1.35,"b":-7.5,"v":5.7},{"r":1.36,"b":-7.5,"v":5.9},{"r":1.37,"b":-7.5,"v":6.0},{"r":1.38,"b":-7.5,"v":6.1},{"r":1.39,"b":-7.5,"v":6.2},{"r":1.4,"b":-7.5,"v":6.3},{"r":1.41,"b":-7.5,"v":6.5},{"r":1.42,"b":-7.5,"v":6.7},{"r":1.43,"b":-7.5,"v":6.8},{"r":1.44,"b":-7.5,"v":7.0},
{"r":1.11,"b":-10,"v":3.2},{"r":1.12,"b":-10,"v":3.2},{"r":1.13,"b":-10,"v":3.2},{"r":1.14,"b":-10,"v":3.2},{"r":1.15,"b":-10,"v":3.2},{"r":1.16,"b":-10,"v":3.2},{"r":1.17,"b":-10,"v":3.2},{"r":1.18,"b":-10,"v":3.2},{"r":1.19,"b":-10,"v":3.2},{"r":1.2,"b":-10,"v":3.2},{"r":1.21,"b":-10,"v":3.2},{"r":1.22,"b":-10,"v":3.2},{"r":1.23,"b":-10,"v":3.2},{"r":1.24,"b":-10,"v":3.2},{"r":1.25,"b":-10,"v":3.2},{"r":1.26,"b":-10,"v":3.2},{"r":1.27,"b":-10,"v":3.2},{"r":1.28,"b":-10,"v":3.2},{"r":1.29,"b":-10,"v":3.3},{"r":1.3,"b":-10,"v":3.4},{"r":1.31,"b":-10,"v":3.6},{"r":1.32,"b":-10,"v":3.9},{"r":1.33,"b":-10,"v":4.3},{"r":1.34,"b":-10,"v":4.6},{"r":1.35,"b":-10,"v":4.9},{"r":1.36,"b":-10,"v":5.1},{"r":1.37,"b":-10,"v":5.3},{"r":1.38,"b":-10,"v":5.5},{"r":1.39,"b":-10,"v":5.6},{"r":1.4,"b":-10,"v":5.7},{"r":1.41,"b":-10,"v":5.9},{"r":1.42,"b":-10,"v":6.2},{"r":1.43,"b":-10,"v":6.5},{"r":1.44,"b":-10,"v":6.7},
{"r":1.11,"b":-12.5,"v":3.2},{"r":1.12,"b":-12.5,"v":3.2},{"r":1.13,"b":-12.5,"v":3.2},{"r":1.14,"b":-12.5,"v":3.2},{"r":1.15,"b":-12.5,"v":3.2},{"r":1.16,"b":-12.5,"v":3.2},{"r":1.17,"b":-12.5,"v":3.2},{"r":1.18,"b":-12.5,"v":3.2},{"r":1.19,"b":-12.5,"v":3.2},{"r":1.2,"b":-12.5,"v":3.2},{"r":1.21,"b":-12.5,"v":3.2},{"r":1.22,"b":-12.5,"v":3.2},{"r":1.23,"b":-12.5,"v":3.2},{"r":1.24,"b":-12.5,"v":3.2},{"r":1.25,"b":-12.5,"v":3.2},{"r":1.26,"b":-12.5,"v":3.2},{"r":1.27,"b":-12.5,"v":3.2},{"r":1.28,"b":-12.5,"v":3.2},{"r":1.29,"b":-12.5,"v":3.2},{"r":1.3,"b":-12.5,"v":3.2},{"r":1.31,"b":-12.5,"v":3.2},{"r":1.32,"b":-12.5,"v":3.4},{"r":1.33,"b":-12.5,"v":3.7},{"r":1.34,"b":-12.5,"v":4.1},{"r":1.35,"b":-12.5,"v":4.4},{"r":1.36,"b":-12.5,"v":4.6},{"r":1.37,"b":-12.5,"v":4.8},{"r":1.38,"b":-12.5,"v":5.0},{"r":1.39,"b":-12.5,"v":5.2},{"r":1.4,"b":-12.5,"v":5.3},{"r":1.41,"b":-12.5,"v":5.4},{"r":1.42,"b":-12.5,"v":5.6},{"r":1.43,"b":-12.5,"v":5.9},{"r":1.44,"b":-12.5,"v":6.0},
{"r":1.11,"b":-15,"v":3.2},{"r":1.12,"b":-15,"v":3.2},{"r":1.13,"b":-15,"v":3.2},{"r":1.14,"b":-15,"v":3.2},{"r":1.15,"b":-15,"v":3.2},{"r":1.16,"b":-15,"v":3.2},{"r":1.17,"b":-15,"v":3.2},{"r":1.18,"b":-15,"v":3.2},{"r":1.19,"b":-15,"v":3.2},{"r":1.2,"b":-15,"v":3.2},{"r":1.21,"b":-15,"v":3.2},{"r":1.22,"b":-15,"v":3.2},{"r":1.23,"b":-15,"v":3.2},{"r":1.24,"b":-15,"v":3.2},{"r":1.25,"b":-15,"v":3.2},{"r":1.26,"b":-15,"v":3.2},{"r":1.27,"b":-15,"v":3.2},{"r":1.28,"b":-15,"v":3.2},{"r":1.29,"b":-15,"v":3.2},{"r":1.3,"b":-15,"v":3.2},{"r":1.31,"b":-15,"v":3.2},{"r":1.32,"b":-15,"v":3.2},{"r":1.33,"b":-15,"v":3.2},{"r":1.34,"b":-15,"v":3.5},{"r":1.35,"b":-15,"v":3.9},{"r":1.36,"b":-15,"v":4.3},{"r":1.37,"b":-15,"v":4.5},{"r":1.38,"b":-15,"v":4.7},{"r":1.39,"b":-15,"v":5.0},{"r":1.4,"b":-15,"v":5.2},{"r":1.41,"b":-15,"v":5.3},{"r":1.42,"b":-15,"v":5.3},{"r":1.43,"b":-15,"v":5.4},{"r":1.44,"b":-15,"v":5.4},
{"r":1.11,"b":-17.5,"v":3.2},{"r":1.12,"b":-17.5,"v":3.2},{"r":1.13,"b":-17.5,"v":3.2},{"r":1.14,"b":-17.5,"v":3.2},{"r":1.15,"b":-17.5,"v":3.2},{"r":1.16,"b":-17.5,"v":3.2},{"r":1.17,"b":-17.5,"v":3.2},{"r":1.18,"b":-17.5,"v":3.2},{"r":1.19,"b":-17.5,"v":3.2},{"r":1.2,"b":-17.5,"v":3.2},{"r":1.21,"b":-17.5,"v":3.2},{"r":1.22,"b":-17.5,"v":3.2},{"r":1.23,"b":-17.5,"v":3.2},{"r":1.24,"b":-17.5,"v":3.2},{"r":1.25,"b":-17.5,"v":3.2},{"r":1.26,"b":-17.5,"v":3.2},{"r":1.27,"b":-17.5,"v":3.2},{"r":1.28,"b":-17.5,"v":3.2},{"r":1.29,"b":-17.5,"v":3.2},{"r":1.3,"b":-17.5,"v":3.2},{"r":1.31,"b":-17.5,"v":3.2},{"r":1.32,"b":-17.5,"v":3.2},{"r":1.33,"b":-17.5,"v":3.2},{"r":1.34,"b":-17.5,"v":3.2},{"r":1.35,"b":-17.5,"v":3.7},{"r":1.36,"b":-17.5,"v":4.3},{"r":1.37,"b":-17.5,"v":4.4},{"r":1.38,"b":-17.5,"v":4.5},{"r":1.39,"b":-17.5,"v":4.8},{"r":1.4,"b":-17.5,"v":5.2},{"r":1.41,"b":-17.5,"v":5.3},{"r":1.42,"b":-17.5,"v":5.3},{"r":1.43,"b":-17.5,"v":5.4},{"r":1.44,"b":-17.5,"v":5.5},
{"r":1.11,"b":-20,"v":3.2},{"r":1.12,"b":-20,"v":3.2},{"r":1.13,"b":-20,"v":3.2},{"r":1.14,"b":-20,"v":3.2},{"r":1.15,"b":-20,"v":3.2},{"r":1.16,"b":-20,"v":3.2},{"r":1.17,"b":-20,"v":3.2},{"r":1.18,"b":-20,"v":3.2},{"r":1.19,"b":-20,"v":3.2},{"r":1.2,"b":-20,"v":3.2},{"r":1.21,"b":-20,"v":3.2},{"r":1.22,"b":-20,"v":3.2},{"r":1.23,"b":-20,"v":3.2},{"r":1.24,"b":-20,"v":3.2},{"r":1.25,"b":-20,"v":3.2},{"r":1.26,"b":-20,"v":3.2},{"r":1.27,"b":-20,"v":3.2},{"r":1.28,"b":-20,"v":3.2},{"r":1.29,"b":-20,"v":3.2},{"r":1.3,"b":-20,"v":3.2},{"r":1.31,"b":-20,"v":3.2},{"r":1.32,"b":-20,"v":3.2},{"r":1.33,"b":-20,"v":3.2},{"r":1.34,"b":-20,"v":3.2},{"r":1.35,"b":-20,"v":3.7},{"r":1.36,"b":-20,"v":4.3},{"r":1.37,"b":-20,"v":4.4},{"r":1.38,"b":-20,"v":4.5},{"r":1.39,"b":-20,"v":4.8},{"r":1.4,"b":-20,"v":5.2},{"r":1.41,"b":-20,"v":5.3},{"r":1.42,"b":-20,"v":5.3},{"r":1.43,"b":-20,"v":5.4},{"r":1.44,"b":-20,"v":5.5},
{"r":1.11,"b":-22.5,"v":3.2},{"r":1.12,"b":-22.5,"v":3.2},{"r":1.13,"b":-22.5,"v":3.2},{"r":1.14,"b":-22.5,"v":3.2},{"r":1.15,"b":-22.5,"v":3.2},{"r":1.16,"b":-22.5,"v":3.2},{"r":1.17,"b":-22.5,"v":3.2},{"r":1.18,"b":-22.5,"v":3.2},{"r":1.19,"b":-22.5,"v":3.2},{"r":1.2,"b":-22.5,"v":3.2},{"r":1.21,"b":-22.5,"v":3.2},{"r":1.22,"b":-22.5,"v":3.2},{"r":1.23,"b":-22.5,"v":3.2},{"r":1.24,"b":-22.5,"v":3.2},{"r":1.25,"b":-22.5,"v":3.2},{"r":1.26,"b":-22.5,"v":3.2},{"r":1.27,"b":-22.5,"v":3.2},{"r":1.28,"b":-22.5,"v":3.2},{"r":1.29,"b":-22.5,"v":3.2},{"r":1.3,"b":-22.5,"v":3.2},{"r":1.31,"b":-22.5,"v":3.2},{"r":1.32,"b":-22.5,"v":3.2},{"r":1.33,"b":-22.5,"v":3.2},{"r":1.34,"b":-22.5,"v":3.2},{"r":1.35,"b":-22.5,"v":3.7},{"r":1.36,"b":-22.5,"v":4.3},{"r":1.37,"b":-22.5,"v":4.4},{"r":1.38,"b":-22.5,"v":4.5},{"r":1.39,"b":-22.5,"v":4.8},{"r":1.4,"b":-22.5,"v":5.2},{"r":1.41,"b":-22.5,"v":5.3},{"r":1.42,"b":-22.5,"v":5.3},{"r":1.43,"b":-22.5,"v":5.4},{"r":1.44,"b":-22.5,"v":5.5},
{"r":1.11,"b":-25,"v":3.2},{"r":1.12,"b":-25,"v":3.2},{"r":1.13,"b":-25,"v":3.2},{"r":1.14,"b":-25,"v":3.2},{"r":1.15,"b":-25,"v":3.2},{"r":1.16,"b":-25,"v":3.2},{"r":1.17,"b":-25,"v":3.2},{"r":1.18,"b":-25,"v":3.2},{"r":1.19,"b":-25,"v":3.2},{"r":1.2,"b":-25,"v":3.2},{"r":1.21,"b":-25,"v":3.2},{"r":1.22,"b":-25,"v":3.2},{"r":1.23,"b":-25,"v":3.2},{"r":1.24,"b":-25,"v":3.2},{"r":1.25,"b":-25,"v":3.2},{"r":1.26,"b":-25,"v":3.2},{"r":1.27,"b":-25,"v":3.2},{"r":1.28,"b":-25,"v":3.2},{"r":1.29,"b":-25,"v":3.2},{"r":1.3,"b":-25,"v":3.2},{"r":1.31,"b":-25,"v":3.2},{"r":1.32,"b":-25,"v":3.2},{"r":1.33,"b":-25,"v":3.2},{"r":1.34,"b":-25,"v":3.2},{"r":1.35,"b":-25,"v":3.7},{"r":1.36,"b":-25,"v":4.3},{"r":1.37,"b":-25,"v":4.4},{"r":1.38,"b":-25,"v":4.5},{"r":1.39,"b":-25,"v":4.8},{"r":1.4,"b":-25,"v":5.2},{"r":1.41,"b":-25,"v":5.3},{"r":1.42,"b":-25,"v":5.3},{"r":1.43,"b":-25,"v":5.4},{"r":1.44,"b":-25,"v":5.5},
{"r":1.11,"b":-27.5,"v":3.2},{"r":1.12,"b":-27.5,"v":3.2},{"r":1.13,"b":-27.5,"v":3.2},{"r":1.14,"b":-27.5,"v":3.2},{"r":1.15,"b":-27.5,"v":3.2},{"r":1.16,"b":-27.5,"v":3.2},{"r":1.17,"b":-27.5,"v":3.2},{"r":1.18,"b":-27.5,"v":3.2},{"r":1.19,"b":-27.5,"v":3.2},{"r":1.2,"b":-27.5,"v":3.2},{"r":1.21,"b":-27.5,"v":3.2},{"r":1.22,"b":-27.5,"v":3.2},{"r":1.23,"b":-27.5,"v":3.2},{"r":1.24,"b":-27.5,"v":3.2},{"r":1.25,"b":-27.5,"v":3.2},{"r":1.26,"b":-27.5,"v":3.2},{"r":1.27,"b":-27.5,"v":3.2},{"r":1.28,"b":-27.5,"v":3.2},{"r":1.29,"b":-27.5,"v":3.2},{"r":1.3,"b":-27.5,"v":3.2},{"r":1.31,"b":-27.5,"v":3.2},{"r":1.32,"b":-27.5,"v":3.2},{"r":1.33,"b":-27.5,"v":3.2},{"r":1.34,"b":-27.5,"v":3.2},{"r":1.35,"b":-27.5,"v":3.7},{"r":1.36,"b":-27.5,"v":4.3},{"r":1.37,"b":-27.5,"v":4.4},{"r":1.38,"b":-27.5,"v":4.5},{"r":1.39,"b":-27.5,"v":4.8},{"r":1.4,"b":-27.5,"v":5.2},{"r":1.41,"b":-27.5,"v":5.3},{"r":1.42,"b":-27.5,"v":5.3},{"r":1.43,"b":-27.5,"v":5.4},{"r":1.44,"b":-27.5,"v":5.6},
{"r":1.11,"b":-30,"v":3.2},{"r":1.12,"b":-30,"v":3.2},{"r":1.13,"b":-30,"v":3.2},{"r":1.14,"b":-30,"v":3.2},{"r":1.15,"b":-30,"v":3.2},{"r":1.16,"b":-30,"v":3.2},{"r":1.17,"b":-30,"v":3.2},{"r":1.18,"b":-30,"v":3.2},{"r":1.19,"b":-30,"v":3.2},{"r":1.2,"b":-30,"v":3.2},{"r":1.21,"b":-30,"v":3.2},{"r":1.22,"b":-30,"v":3.2},{"r":1.23,"b":-30,"v":3.2},{"r":1.24,"b":-30,"v":3.2},{"r":1.25,"b":-30,"v":3.2},{"r":1.26,"b":-30,"v":3.2},{"r":1.27,"b":-30,"v":3.2},{"r":1.28,"b":-30,"v":3.2},{"r":1.29,"b":-30,"v":3.2},{"r":1.3,"b":-30,"v":3.2},{"r":1.31,"b":-30,"v":3.2},{"r":1.32,"b":-30,"v":3.2},{"r":1.33,"b":-30,"v":3.2},{"r":1.34,"b":-30,"v":3.2},{"r":1.35,"b":-30,"v":3.6},{"r":1.36,"b":-30,"v":4.3},{"r":1.37,"b":-30,"v":4.4},{"r":1.38,"b":-30,"v":4.5},{"r":1.39,"b":-30,"v":4.8},{"r":1.4,"b":-30,"v":5.2},{"r":1.41,"b":-30,"v":5.3},{"r":1.42,"b":-30,"v":5.3},{"r":1.43,"b":-30,"v":5.5},{"r":1.44,"b":-30,"v":6.0},
{"r":1.11,"b":-32.5,"v":3.2},{"r":1.12,"b":-32.5,"v":3.2},{"r":1.13,"b":-32.5,"v":3.2},{"r":1.14,"b":-32.5,"v":3.2},{"r":1.15,"b":-32.5,"v":3.2},{"r":1.16,"b":-32.5,"v":3.2},{"r":1.17,"b":-32.5,"v":3.2},{"r":1.18,"b":-32.5,"v":3.2},{"r":1.19,"b":-32.5,"v":3.2},{"r":1.2,"b":-32.5,"v":3.2},{"r":1.21,"b":-32.5,"v":3.2},{"r":1.22,"b":-32.5,"v":3.2},{"r":1.23,"b":-32.5,"v":3.2},{"r":1.24,"b":-32.5,"v":3.2},{"r":1.25,"b":-32.5,"v":3.2},{"r":1.26,"b":-32.5,"v":3.2},{"r":1.27,"b":-32.5,"v":3.2},{"r":1.28,"b":-32.5,"v":3.2},{"r":1.29,"b":-32.5,"v":3.2},{"r":1.3,"b":-32.5,"v":3.2},{"r":1.31,"b":-32.5,"v":3.2},{"r":1.32,"b":-32.5,"v":3.2},{"r":1.33,"b":-32.5,"v":3.2},{"r":1.34,"b":-32.5,"v":3.2},{"r":1.35,"b":-32.5,"v":3.5},{"r":1.36,"b":-32.5,"v":4.3},{"r":1.37,"b":-32.5,"v":4.4},{"r":1.38,"b":-32.5,"v":4.5},{"r":1.39,"b":-32.5,"v":4.8},{"r":1.4,"b":-32.5,"v":5.2},{"r":1.41,"b":-32.5,"v":5.3},{"r":1.42,"b":-32.5,"v":5.4},{"r":1.43,"b":-32.5,"v":6.0},{"r":1.44,"b":-32.5,"v":6.8},
{"r":1.11,"b":-35,"v":3.2},{"r":1.12,"b":-35,"v":3.2},{"r":1.13,"b":-35,"v":3.2},{"r":1.14,"b":-35,"v":3.2},{"r":1.15,"b":-35,"v":3.2},{"r":1.16,"b":-35,"v":3.2},{"r":1.17,"b":-35,"v":3.2},{"r":1.18,"b":-35,"v":3.2},{"r":1.19,"b":-35,"v":3.2},{"r":1.2,"b":-35,"v":3.2},{"r":1.21,"b":-35,"v":3.2},{"r":1.22,"b":-35,"v":3.2},{"r":1.23,"b":-35,"v":3.2},{"r":1.24,"b":-35,"v":3.2},{"r":1.25,"b":-35,"v":3.2},{"r":1.26,"b":-35,"v":3.2},{"r":1.27,"b":-35,"v":3.2},{"r":1.28,"b":-35,"v":3.2},{"r":1.29,"b":-35,"v":3.2},{"r":1.3,"b":-35,"v":3.2},{"r":1.31,"b":-35,"v":3.2},{"r":1.32,"b":-35,"v":3.2},{"r":1.33,"b":-35,"v":3.2},{"r":1.34,"b":-35,"v":3.2},{"r":1.35,"b":-35,"v":3.4},{"r":1.36,"b":-35,"v":4.3},{"r":1.37,"b":-35,"v":4.4},{"r":1.38,"b":-35,"v":4.5},{"r":1.39,"b":-35,"v":4.8},{"r":1.4,"b":-35,"v":5.2},{"r":1.41,"b":-35,"v":5.3},{"r":1.42,"b":-35,"v":5.6},{"r":1.43,"b":-35,"v":6.4},{"r":1.44,"b":-35,"v":7.2}
],
"mark":[{"r":1.365,"b":10}]
},
"vconcat":[
{
 "width":265,"height":316,
 "title":{"text":"(a)","anchor":"start","frame":"group","dx":-39,"offset":3,"font":"Liberation Serif","fontStyle":"italic","fontWeight":"normal","fontSize":30,"color":"#000000"},
 "layer":[
  {"data":{"name":"a"},"mark":{"type":"rect","clip":true,"binSpacing":0,"x2Offset":-1,"y2Offset":1},
   "encoding":{
    "x":{"field":"r","type":"quantitative","bin":{"binned":true,"step":0.01},"scale":{"domain":[1.11,1.445],"nice":false,"zero":false},"axis":{"values":[1.2,1.3,1.4],"format":".1f","title":null}},
    "y":{"field":"b","type":"quantitative","bin":{"binned":true,"step":2.5},"scale":{"domain":[-35,15],"nice":false,"zero":false},"axis":{"values":[-30,-20,-10,0,10],"format":"d","title":"bias(V)"}},
    "color":{"field":"v","type":"quantitative","scale":{"domain":[0,4],"range":["#ffffff","#000000"],"interpolate":"rgb"},
      "legend":{"title":null,"orient":"right","offset":13,"gradientLength":316,"gradientThickness":14,"gradientStrokeColor":"#4d4d4d","gradientStrokeWidth":1,"labelFont":"Liberation Sans","labelFontSize":25,"labelColor":"#262626","labelOffset":9,"values":[0,1,2,3,4],"format":"d","padding":0,"direction":"vertical","encode":{"labels":{"update":{"baseline":{"value":"middle"}}}}}}
   }},
  {"data":{"name":"mark"},"mark":{"type":"point","opacity":0},
   "encoding":{
    "x":{"field":"r","type":"quantitative","scale":{"domain":[1.11,1.445],"nice":false,"zero":false},"axis":{"orient":"top","values":[1.2,1.3,1.4],"labels":false,"title":null}},
    "y":{"field":"b","type":"quantitative","scale":{"domain":[-35,15],"nice":false,"zero":false},"axis":{"orient":"right","values":[-30,-20,-10,0,10],"labels":false,"title":null}}
   }},
  {"data":{"name":"mark"},"mark":{"type":"point","shape":"M-1,0L1,0M0,-1L0,1","stroke":"#ff0000","strokeWidth":3.5,"size":225,"filled":false,"opacity":1},
   "encoding":{
    "x":{"field":"r","type":"quantitative","axis":null},
    "y":{"field":"b","type":"quantitative","axis":null}
   }}
 ],
 "resolve":{"axis":{"x":"independent","y":"independent"}}
},
{
 "width":265,"height":316,
 "title":{"text":"(b)","anchor":"start","frame":"group","dx":-39,"offset":3,"font":"Liberation Serif","fontStyle":"italic","fontWeight":"normal","fontSize":30,"color":"#000000"},
 "layer":[
  {"data":{"name":"b"},"mark":{"type":"rect","clip":true,"binSpacing":0,"x2Offset":-1,"y2Offset":1},
   "encoding":{
    "x":{"field":"r","type":"quantitative","bin":{"binned":true,"step":0.01},"scale":{"domain":[1.11,1.445],"nice":false,"zero":false},"axis":{"values":[1.2,1.3,1.4],"format":".1f","title":"R(m)"}},
    "y":{"field":"b","type":"quantitative","bin":{"binned":true,"step":2.5},"scale":{"domain":[-35,15],"nice":false,"zero":false},"axis":{"values":[-30,-20,-10,0,10],"format":"d","title":"bias(V)"}},
    "color":{"field":"v","type":"quantitative","scale":{"domain":[3.2,22.9],"range":["#ffffff","#000000"],"interpolate":"rgb"},
      "legend":{"title":null,"orient":"right","offset":13,"gradientLength":315,"gradientThickness":14,"gradientStrokeColor":"#4d4d4d","gradientStrokeWidth":1,"labelFont":"Liberation Sans","labelFontSize":25,"labelColor":"#262626","labelOffset":9,"values":[5,10,15,20],"format":"d","padding":0,"direction":"vertical","encode":{"labels":{"update":{"baseline":{"value":"middle"}}}}}}
   }},
  {"data":{"name":"mark"},"mark":{"type":"point","opacity":0},
   "encoding":{
    "x":{"field":"r","type":"quantitative","scale":{"domain":[1.11,1.445],"nice":false,"zero":false},"axis":{"orient":"top","values":[1.2,1.3,1.4],"labels":false,"title":null}},
    "y":{"field":"b","type":"quantitative","scale":{"domain":[-35,15],"nice":false,"zero":false},"axis":{"orient":"right","values":[-30,-20,-10,0,10],"labels":false,"title":null}}
   }},
  {"data":{"name":"mark"},"mark":{"type":"point","shape":"M-1,0L1,0M0,-1L0,1","stroke":"#ff0000","strokeWidth":3.5,"size":225,"filled":false,"opacity":1},
   "encoding":{
    "x":{"field":"r","type":"quantitative","axis":null},
    "y":{"field":"b","type":"quantitative","axis":null}
   }}
 ],
 "resolve":{"axis":{"x":"independent","y":"independent"}}
}
],
"resolve":{"scale":{"color":"independent"},"legend":{"color":"independent"}}
}
